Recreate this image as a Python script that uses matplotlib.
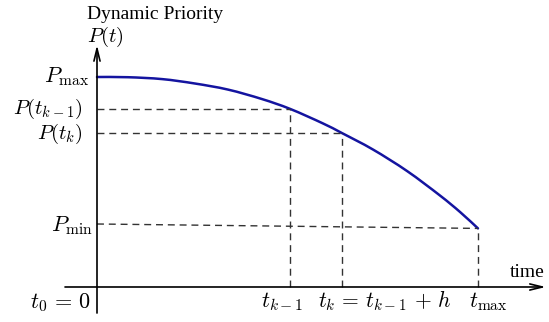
import matplotlib

matplotlib.use("Agg")
import matplotlib.pyplot as plt
from matplotlib.patches import PathPatch
from matplotlib.path import Path

plt.rcParams["mathtext.fontset"] = "cm"
plt.rcParams["font.family"] = ["Liberation Serif", "DejaVu Serif"]

# priority curve (t scaled so t_max = 1, P so P_max = 1)
curve_t = [0.0, 0.081, 0.171, 0.257, 0.344, 0.433, 0.507, 0.593, 0.643,
           0.724, 0.814, 0.900, 0.953, 1.0]
curve_p = [1.0, 0.999, 0.990, 0.969, 0.940, 0.895, 0.848, 0.779, 0.733,
           0.655, 0.552, 0.436, 0.357, 0.279]

t_km1 = 0.507
t_k = 0.643
t_max = 1.0
p_max = 1.0
p_km1 = 0.848
p_k = 0.733
p_min = 0.279
p_min_left = 0.300  # the drawn P_min guide is not quite level


def smooth_path(xs, ys):
    # Catmull-Rom through the read points, as cubic Bezier segments
    pts = list(zip(xs, ys))
    verts = [pts[0]]
    codes = [Path.MOVETO]
    for i in range(len(pts) - 1):
        p0 = pts[i - 1] if i > 0 else pts[i]
        p1, p2 = pts[i], pts[i + 1]
        p3 = pts[i + 2] if i + 2 < len(pts) else pts[i + 1]
        c1 = (p1[0] + (p2[0] - p0[0]) / 6, p1[1] + (p2[1] - p0[1]) / 6)
        c2 = (p2[0] - (p3[0] - p1[0]) / 6, p2[1] - (p3[1] - p1[1]) / 6)
        verts += [c1, c2, p2]
        codes += [Path.CURVE4] * 3
    return Path(verts, codes)


fig = plt.figure(figsize=(5.49, 3.22), dpi=100)
ax = fig.add_axes([0, 0, 1, 1])
ax.set_xlim(-0.2546, 1.1864)
ax.set_ylim(-0.1667, 1.3667)
ax.axis("off")

dash = dict(color="#333333", lw=1.0, linestyle=(0, (5, 3.5)))

# guide lines
ax.plot([0, t_km1], [p_km1, p_km1], **dash)
ax.plot([0, t_k], [p_k, p_k], **dash)
ax.plot([0, t_max], [p_min_left, p_min], **dash)
ax.plot([t_km1, t_km1], [0, p_km1], **dash)
ax.plot([t_k, t_k], [0, p_k], **dash)
ax.plot([t_max, t_max], [0, p_min], **dash)

ax.add_patch(PathPatch(smooth_path(curve_t, curve_p), facecolor="none",
                       edgecolor="#1414a0", lw=1.8, capstyle="round"))

# axes with arrows
arrow = dict(arrowstyle="->,head_length=0.9,head_width=0.22", lw=1.2,
             color="black", shrinkA=0, shrinkB=0)
ax.annotate("", xy=(1.178, 0), xytext=(-0.084, 0), arrowprops=arrow)
ax.annotate("", xy=(0, 1.152), xytext=(0, -0.124), arrowprops=arrow)

ax.text(-0.026, 1.275, "Dynamic Priority", fontsize=14, ha="left", va="baseline")
ax.text(-0.026, 1.168, r"$P(t)$", fontsize=15, ha="left", va="baseline")
ax.text(1.084, 0.048, "time", fontsize=14, ha="left", va="baseline")

ax.text(-0.021, p_max, r"$P_{\mathrm{max}}$", fontsize=16, ha="right", va="center")
ax.text(-0.037, p_km1, r"$P(t_{k-1})$", fontsize=15, ha="right", va="center")
ax.text(-0.037, p_k - 0.006, r"$P(t_k)$", fontsize=15, ha="right", va="center")
ax.text(-0.011, p_min_left - 0.01, r"$P_{\mathrm{min}}$", fontsize=16,
        ha="right", va="center")

ax.text(-0.016, -0.1, r"$t_0\,=\,0$", fontsize=16, ha="right", va="baseline")
ax.text(t_km1 - 0.02, -0.095, r"$t_{k-1}$", fontsize=16, ha="center", va="baseline")
ax.text(0.756, -0.095, r"$t_k\,=\,t_{k-1}\,+\,h$", fontsize=15.5, ha="center",
        va="baseline")
ax.text(t_max + 0.026, -0.095, r"$t_{\mathrm{max}}$", fontsize=16, ha="center",
        va="baseline")

fig.savefig("out.png", dpi=100)
